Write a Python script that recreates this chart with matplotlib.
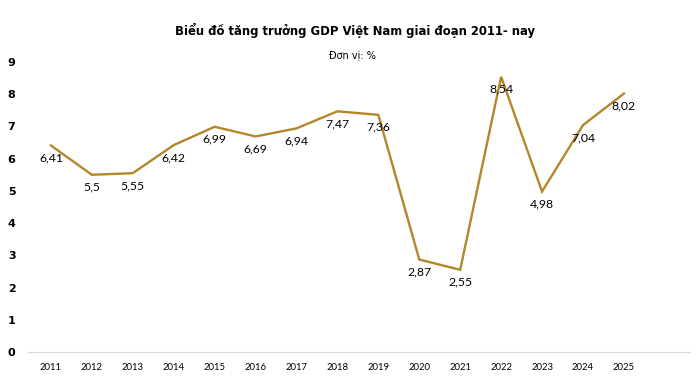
import matplotlib
matplotlib.use("Agg")
import matplotlib.pyplot as plt

# GDP growth, Vietnam (%)
years = [2011, 2012, 2013, 2014, 2015, 2016, 2017, 2018, 2019, 2020, 2021, 2022, 2023, 2024, 2025]
growth = [6.41, 5.5, 5.55, 6.42, 6.99, 6.69, 6.94, 7.47, 7.36, 2.87, 2.55, 8.54, 4.98, 7.04, 8.02]
y_ticks = [0, 1, 2, 3, 4, 5, 6, 7, 8, 9]

line_color = "#B3862A"

fig = plt.figure(figsize=(7, 3.84), dpi=100)
ax = fig.add_axes([0.04, 1 - 352 / 384, 0.946, (352 - 62) / 384])

ax.plot(years, growth, color=line_color, linewidth=1.7, solid_joinstyle="miter")

# data labels under each point
for x, y in zip(years, growth):
    ax.annotate(f"{y:g}".replace(".", ","), (x, y), xytext=(0, -9),
                textcoords="offset points", ha="center", va="center",
                fontsize=8.8, family="Lato")

ax.set_xlim(2010.44, 2026.62)
ax.set_ylim(0, 9)
ax.set_xticks(years)
ax.set_xticklabels([str(y) for y in years], fontsize=6.8, family="Lato")
ax.set_yticks(y_ticks)
ax.set_yticklabels([str(t) for t in y_ticks], fontsize=8, fontweight="bold", family="DejaVu Sans")
ax.tick_params(axis="both", length=0)
ax.tick_params(axis="x", pad=8)
ax.tick_params(axis="y", pad=9)

for side in ["top", "right", "left"]:
    ax.spines[side].set_visible(False)
ax.spines["bottom"].set_color("#D9D9D9")
ax.spines["bottom"].set_linewidth(0.8)

fig.text(0.507, 1 - 30 / 384, "Biểu đồ tăng trưởng GDP Việt Nam giai đoạn 2011- nay",
         ha="center", va="center", fontsize=8.4, fontweight="bold", family="DejaVu Sans")
fig.text(0.503, 1 - 55 / 384, "Đơn vị: %", ha="center", va="center",
         fontsize=7, family="DejaVu Sans")

plt.savefig("out.png", dpi=100)
